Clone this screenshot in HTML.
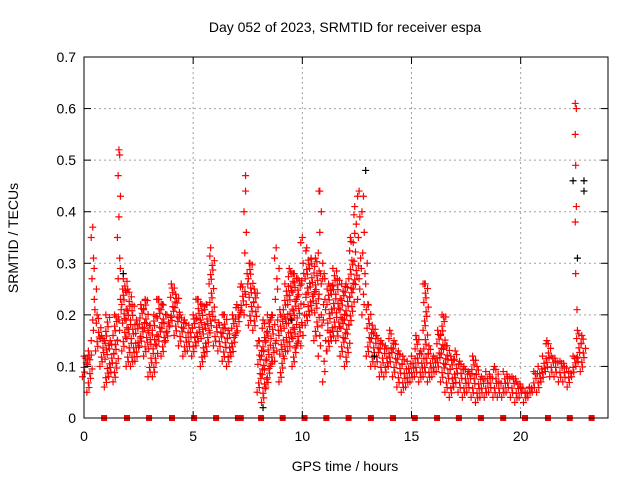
<!DOCTYPE html>
<html><head><meta charset="utf-8"><style>
html,body{margin:0;padding:0;background:#fff}
svg{display:block;font-family:"Liberation Sans",sans-serif}
</style></head><body>
<svg id="chart" width="640" height="480" viewBox="0 0 640 480" xmlns="http://www.w3.org/2000/svg">
<rect width="640" height="480" fill="#fff"/>
<text x="345" y="32" font-size="14" text-anchor="middle">Day 052 of 2023, SRMTID for receiver espa</text>
<text x="345" y="471" font-size="14" text-anchor="middle">GPS time / hours</text>
<text x="18" y="238" font-size="14" text-anchor="middle" transform="rotate(-90 18 238)">SRMTID / TECUs</text>
<g id="grid"></g>
<g id="marks"></g>
<g id="axes"></g>
</svg>
<script>
const times=[0,0.2,0.4,0.6,0.8,1.0,1.2,1.4,1.6,1.8,2.0,2.2,2.4,2.6,2.8,3.0,3.2,3.4,3.6,3.8,4.0,4.2,4.4,4.6,4.8,5.0,5.2,5.4,5.6,5.8,6.0,6.2,6.4,6.6,6.8,7.0,7.2,7.4,7.6,7.8,8.0,8.2,8.4,8.6,8.8,9.0,9.2,9.4,9.6,9.8,10.0,10.2,10.4,10.6,10.8,11.0,11.2,11.4,11.6,11.8,12.0,12.2,12.4,12.6,12.8,13.0,13.2,13.4,13.6,13.8,14.0,14.2,14.4,14.6,14.8,15.0,15.2,15.4,15.6,15.8,16.0,16.2,16.4,16.6,16.8,17.0,17.2,17.4,17.6,17.8,18.0,18.2,18.4,18.6,18.8,19.0,19.2,19.4,19.6,19.8,20.0,20.2,20.4,20.6,20.8,21.0,21.2,21.4,21.6,21.8,22.0,22.2,22.4,22.6,22.8];
const redLow=[0.08,0.05,0.15,0.13,0.10,0.06,0.08,0.07,0.15,0.13,0.10,0.10,0.11,0.14,0.12,0.08,0.08,0.14,0.12,0.15,0.18,0.16,0.14,0.12,0.13,0.12,0.14,0.10,0.12,0.17,0.14,0.13,0.11,0.10,0.12,0.16,0.20,0.20,0.18,0.17,0.05,0.03,0.06,0.10,0.11,0.07,0.12,0.13,0.10,0.14,0.14,0.18,0.20,0.15,0.12,0.07,0.13,0.15,0.15,0.12,0.10,0.18,0.25,0.23,0.20,0.12,0.10,0.10,0.08,0.08,0.10,0.08,0.06,0.05,0.06,0.07,0.08,0.07,0.08,0.07,0.08,0.09,0.07,0.05,0.04,0.06,0.05,0.04,0.05,0.04,0.03,0.04,0.04,0.05,0.04,0.04,0.04,0.05,0.04,0.03,0.04,0.03,0.04,0.05,0.05,0.07,0.09,0.08,0.08,0.07,0.07,0.06,0.08,0.10,0.09];
const redHigh=[0.12,0.13,0.37,0.20,0.16,0.20,0.15,0.20,0.52,0.27,0.25,0.22,0.19,0.22,0.23,0.18,0.20,0.23,0.22,0.20,0.26,0.24,0.20,0.19,0.18,0.20,0.23,0.22,0.22,0.33,0.19,0.18,0.20,0.17,0.20,0.22,0.26,0.47,0.30,0.25,0.15,0.19,0.20,0.20,0.33,0.20,0.26,0.29,0.28,0.27,0.35,0.33,0.31,0.31,0.44,0.28,0.26,0.29,0.27,0.26,0.26,0.35,0.41,0.44,0.43,0.22,0.18,0.16,0.15,0.14,0.17,0.15,0.13,0.12,0.11,0.12,0.16,0.13,0.26,0.14,0.12,0.17,0.20,0.14,0.12,0.13,0.11,0.10,0.09,0.12,0.10,0.08,0.09,0.08,0.10,0.07,0.09,0.08,0.08,0.07,0.06,0.05,0.06,0.09,0.10,0.12,0.15,0.12,0.11,0.11,0.10,0.09,0.12,0.17,0.16];
const spikeTimes=[22.5,22.55,22.5,22.52,22.55,22.5,22.52,22.58];
const spikeValues=[0.61,0.60,0.55,0.49,0.41,0.38,0.28,0.21];
const blackTimes=[12.9,22.4,22.9,22.9,8.2,1.8,13.3,9.5,22.6];
const blackValues=[0.48,0.46,0.46,0.44,0.02,0.28,0.12,0.19,0.31];
const squareHours=[0.92,1.97,2.98,4.03,5.04,6.05,7.05,7.18,8.11,9.1,10.1,11.1,12.12,13.14,14.15,15.15,16.17,17.17,18.18,19.2,20.2,21.25,22.25,23.25];
const xTicks=[0,5,10,15,20];
const yTicks=[0,0.1,0.2,0.3,0.4,0.5,0.6,0.7];
const yTickLabels=["0","0.1","0.2","0.3","0.4","0.5","0.6","0.7"];

const L=84,R=608,T=57,B=418;
const X=h=>L+(R-L)*h/24;
const Y=v=>B-(B-T)*v/0.7;
const NS="http://www.w3.org/2000/svg";
function mk(tag,attrs,parent){const e=document.createElementNS(NS,tag);for(const k in attrs)e.setAttribute(k,attrs[k]);parent.appendChild(e);return e;}
const grid=document.getElementById('grid'),marks=document.getElementById('marks'),axes=document.getElementById('axes');

yTicks.forEach((v,i)=>{
  if(i>0&&i<yTicks.length-1){const g=mk('line',{x1:L,x2:R,y1:Y(v),y2:Y(v),stroke:'#a0a0a0','stroke-dasharray':'2,3'},grid);
  
  }
  mk('line',{x1:L,x2:L+7,y1:Y(v),y2:Y(v),stroke:'#000'},axes);
  mk('line',{x1:R,x2:R-7,y1:Y(v),y2:Y(v),stroke:'#000'},axes);
  const t=mk('text',{x:L-8,y:Y(v)+5,'font-size':14,'text-anchor':'end'},axes);t.textContent=yTickLabels[i];
  
  
});
xTicks.forEach(h=>{
  if(h>0){const g=mk('line',{x1:X(h),x2:X(h),y1:T,y2:B,stroke:'#a0a0a0','stroke-dasharray':'2,3'},grid);
  
  }
  mk('line',{x1:X(h),x2:X(h),y1:B,y2:B-7,stroke:'#000'},axes);
  mk('line',{x1:X(h),x2:X(h),y1:T,y2:T+7,stroke:'#000'},axes);
  const t=mk('text',{x:X(h),y:B+23,'font-size':14,'text-anchor':'middle'},axes);t.textContent=String(h);
  
  
});
const frame=mk('rect',{x:L,y:T,width:R-L,height:B-T,fill:'none',stroke:'#000','stroke-width':1},axes);



function cross(h,v,color){
  const x=X(h),y=Y(v);
  const p=mk('path',{d:`M${x-3.5} ${y}H${x+3.5}M${x} ${y-3.5}V${y+3.5}`,stroke:color,'stroke-width':1.2,fill:'none'},marks);
  
  
}
times.forEach((h,i)=>{
  const lo=redLow[i],hi=redHigh[i];
  const span=hi-lo;
  const step=span>0.2?0.04:0.018;
  let k=0;
  for(let v=lo;v<=hi+1e-9;v+=step,k++){
    const dx=((k*7)%5-2)*0.035;
    cross(h+dx,v,'#ff0000');
    if(v<0.3) cross(h+0.1+dx,v+step*0.5>hi?v:v+step*0.5,'#ff0000');
  }
  cross(h,hi,'#ff0000');
});
spikeTimes.forEach((h,i)=>cross(h,spikeValues[i],'#ff0000'));
blackTimes.forEach((h,i)=>cross(h,blackValues[i],'#000000'));
squareHours.forEach(h=>{
  const s=mk('rect',{x:X(h)-3,y:B-3,width:6,height:6,fill:'#ff0000'},marks);
  
  
});
</script>
</body></html>
